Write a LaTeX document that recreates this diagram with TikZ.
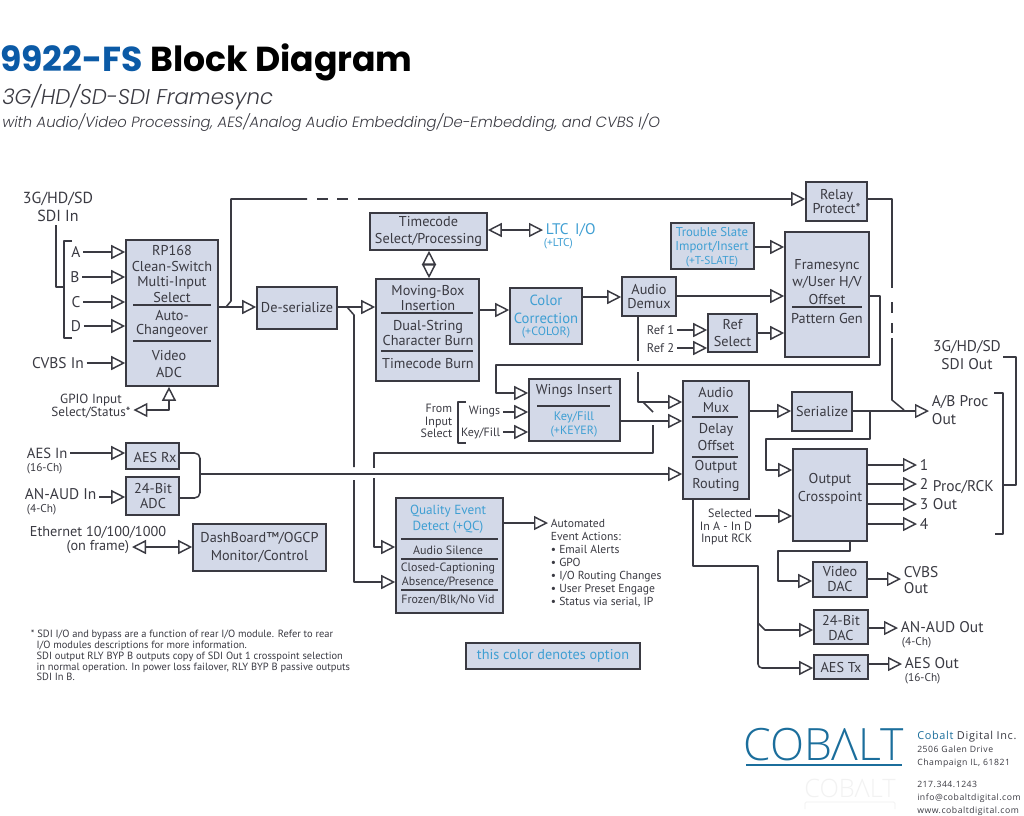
\documentclass[tikz,border=0pt]{standalone}
\usepackage{fontspec}
\setmainfont{PT Sans}
\newfontfamily\ttlf{Poppins}
\newfontfamily\subf{Poppins Light Italic}
\newfontfamily\logof{Open Sans Light}
\newfontfamily\addrf{Open Sans}[LetterSpace=6]
\usetikzlibrary{arrows.meta}
\definecolor{ink}{HTML}{3A3A42}
\definecolor{boxfill}{HTML}{D3D9E8}
\definecolor{opt}{HTML}{3F9FD3}
\definecolor{ttlblue}{HTML}{0B5AA6}
\definecolor{logoblue}{HTML}{1B6E9C}
\newcommand{\lb}{\fontsize{10.7}{11}\selectfont}
\newcommand{\lbig}{\fontsize{11.6}{12}\selectfont}
\newcommand{\ls}{\fontsize{9}{9.6}\selectfont}
\newcommand{\lt}{\fontsize{8.5}{9}\selectfont}
\tikzset{
  blk/.style={draw=ink,fill=boxfill,line width=1.2pt,inner sep=0pt,rectangle},
  lab/.style={font=\lb,align=center,text=ink,inner xsep=2pt,inner ysep=0pt},
  wire/.style={draw=ink,line width=1.15pt,line join=round},
  arr/.style={wire,-{Triangle[open,fill=white,length=10.5pt,width=10.5pt,line width=1.1pt]}},
  barr/.style={wire,{Triangle[open,fill=white,length=10.5pt,width=10.5pt,line width=1.1pt]}-{Triangle[open,fill=white,length=10.5pt,width=10.5pt,line width=1.1pt]}},
  sepl/.style={draw=ink,line width=1.1pt},
}
\newcommand{\blk}[6][]{%
  \node[blk,#1,minimum width={(#5-#3)*0.75pt},minimum height={(#6-#4)*0.75pt}] (#2) at ({(#3+#5)/2},{(#4+#6)/2}) {};}
\begin{document}
\begin{tikzpicture}[x=0.75pt,y=-0.75pt]
\useasboundingbox (0,0) rectangle (1024,815);
\fill[white] (0,0) rectangle (1024,815);

% Title
\node[anchor=base west,inner sep=0pt,font=\ttlf\bfseries\fontsize{26}{27}\selectfont] (title) at (0,71) {\textcolor{ttlblue}{9922-FS} Block Diagram};
\node[anchor=base west,inner sep=0pt,font=\subf\fontsize{16}{18}\selectfont,text=ink] (sub1) at (2,104) {3G/HD/SD-SDI Framesync};
\node[anchor=base west,inner sep=0pt,font=\subf\fontsize{11.1}{14}\selectfont,text=ink] (sub2) at (2,127) {with Audio/Video Processing, AES/Analog Audio Embedding/De-Embedding, and CVBS I/O};

% Blocks
\blk{rp}{126}{240}{218}{386}
\blk{des}{257}{287}{337}{329}
\blk{relay}{806}{182}{867}{221}
\blk{tc}{370}{213}{487}{250}
\blk{mov}{376}{279}{479}{381}
\blk{col}{510}{288}{582}{344}
\blk{demux}{622}{277}{676}{316}
\blk{ts}{671}{223}{754}{269}
\blk{fs}{785}{232}{869}{357}
\blk{refs}{708}{314}{757}{352}
\blk{wings}{529}{379}{620}{441}
\blk{mux}{683}{381}{749}{499}
\blk{ser}{792}{392}{852}{431}
\blk{xp}{793}{449}{867}{541}
\blk{vdac}{813}{562}{867}{597}
\blk{adac}{814}{610}{868}{644}
\blk{aestx}{814}{655}{868}{679}
\blk{aesrx}{126}{443}{179}{469}
\blk{adc}{126}{477}{179}{515}
\blk{dash}{193}{524}{326}{571}
\blk{qed}{396}{498}{503}{613}
\blk{legend}{466}{643}{640}{669}

% Block text
\node[lab] (t1) at (172,274) {RP168\\[0.6pt]Clean-Switch\\[0.6pt]Multi-Input\\[0.6pt]Select};
\draw[sepl] (133,305) -- (211,305);
\node[lab] (t2) at (172,324) {Auto-\\Changeover};
\draw[sepl] (133,341) -- (211,341);
\node[lab] (t3) at (169,364) {Video\\[2pt]ADC};
\node[lab] (t4) at (des) {De-serialize};
\node[lab] (t5) at (relay) {Relay\\Protect*};
\node[lab] (t6) at (tc) {Timecode\\[2pt]Select/Processing};
\node[lab] (t7) at (428,298) {Moving-Box\\Insertion};
\draw[sepl] (381,313) -- (473,313);
\node[lab] (t8) at (428,333) {Dual-String\\Character Burn};
\draw[sepl] (381,351) -- (473,351);
\node[lab] (t9) at (428,364) {Timecode Burn};
\node[lab,font=\fontsize{11}{11.5}\selectfont,text=opt] (t10) at (546,309) {Color\\[2pt]Correction};
\node[lab,font=\ls,text=opt] (t11) at (546,333) {(+COLOR)};
\node[lab] (t12) at (demux) {Audio\\Demux};
\node[lab,font=\fontsize{9.6}{10.6}\selectfont,text=opt] (t13) at (712,240) {Trouble Slate\\Import/Insert};
\node[lab,font=\fontsize{8.6}{9}\selectfont,text=opt] (t14) at (712,262) {(+T-SLATE)};
\node[lab] (t15) at (827,282) {Framesync\\[2pt]w/User H/V\\[2pt]Offset};
\draw[sepl] (792,307) -- (862,307);
\node[lab] (t16) at (827,318) {Pattern Gen};
\node[lab] (t17) at (refs) {Ref\\[2pt]Select};
\node[lab] (t18) at (574,391) {Wings Insert};
\draw[sepl] (537,406) -- (610,406);
\node[lab,font=\fontsize{9.3}{10}\selectfont,text=opt] (t19) at (574,417) {Key/Fill};
\node[lab,font=\ls,text=opt] (t20) at (574,432) {(+KEYER)};
\node[lab] (t21) at (716,400) {Audio\\Mux};
\draw[sepl] (692,417) -- (738,417);
\node[lab] (t22) at (716,437) {Delay\\[2pt]Offset};
\draw[sepl] (692,457) -- (738,457);
\node[lab] (t23) at (716,476) {Output\\[2pt]Routing};
\node[lab] (t24) at (ser) {Serialize};
\node[lab] (t25) at (830,489) {Output\\[2pt]Crosspoint};
\node[lab] (t26) at (840,579) {Video\\DAC};
\node[lab] (t27) at (841,628) {24-Bit\\DAC};
\node[lab] (t28) at (aestx) {AES Tx};
\node[lab] (t29) at (155,457) {AES Rx};
\node[lab] (t30) at (153,496) {24-Bit\\ADC};
\node[lab] (t31) at (dash) {DashBoard™/OGCP\\[2pt]Monitor/Control};
\node[lab,font=\fontsize{9.9}{10.8}\selectfont,text=opt] (t32) at (448,519) {Quality Event\\[1pt]Detect (+QC)};
\draw[sepl,line width=1.5pt] (401,539) -- (498,539);
\node[lab,font=\ls] (t33) at (448,550) {Audio Silence};
\draw[sepl] (401,559) -- (498,559);
\node[lab,font=\ls] (t34) at (448,575) {Closed-Captioning\\[1pt]Absence/Presence};
\draw[sepl] (401,590) -- (498,590);
\node[lab,font=\ls] (t35) at (448,600) {Frozen/Blk/No Vid};
\node[lab,text=opt] (t36) at (legend) {this color denotes option};

% Input / output labels
\node[lab,font=\fontsize{12}{12.5}\selectfont] (sdiin) at (58,207) {3G/HD/SD\\[1pt]SDI In};
\node[lab,font=\lbig] (inA) at (76,252) {A};
\node[lab,font=\lbig] (inB) at (75,277) {B};
\node[lab,font=\lbig] (inC) at (76,302) {C};
\node[lab,font=\lbig] (inD) at (76,326) {D};
\node[lab,font=\lbig] (cvbs) at (58,363) {CVBS In};
\node[lab,font=\fontsize{9.9}{10}\selectfont] (gpio) at (91,406) {GPIO Input\\Select/Status*};
\node[lab,anchor=west,font=\fontsize{11}{12}\selectfont] (aesin) at (24,453) {AES In};
\node[lab,anchor=west,font=\lt] (aesin2) at (24,469) {(16-Ch)};
\node[lab,anchor=west,font=\lbig] (anin) at (22,494) {AN-AUD In};
\node[lab,anchor=west,font=\lt] (anin2) at (24,510) {(4-Ch)};
\node[lab] (eth) at (98,532) {Ethernet 10/100/1000};
\node[lab,anchor=east] (frame) at (132,547) {(on frame)};
\node[lab,anchor=west,text=opt,font=\fontsize{11.5}{12}\selectfont] (ltc) at (543,230) {LTC\, I/O};
\node[lab,anchor=west,font=\lt,text=opt] (ltc2) at (541,244) {(+LTC)};
\node[lab,anchor=west,font=\fontsize{9.4}{10}\selectfont] (ref1) at (644,330) {Ref 1};
\node[lab,anchor=west,font=\fontsize{9.4}{10}\selectfont] (ref2) at (644,348) {Ref 2};
\node[lab,font=\ls,align=right,anchor=east] (from) at (455,421) {From\\Input\\Select};
\node[lab,font=\ls,anchor=east] (wl) at (503,412) {Wings};
\node[lab,font=\ls,anchor=east] (kf) at (503,433) {Key/Fill};
\node[lab,font=\ls,align=right,anchor=east] (sel) at (755,527) {Selected\\In A - In D\\Input RCK};
\node[lab,font=\lbig] (sdiout) at (967,355) {3G/HD/SD\\[1pt]SDI Out};
\node[lab,anchor=west,align=left,font=\lbig] (abp) at (929,410) {A/B Proc\\[1pt]Out};
\node[lab,anchor=west,font=\lbig] (o1) at (917,465) {1};
\node[lab,anchor=west,font=\lbig] (o2) at (917,484) {2};
\node[lab,anchor=west,font=\lbig] (o3) at (917,504) {3};
\node[lab,anchor=west,font=\lbig] (o4) at (917,524) {4};
\node[lab,anchor=west,align=left,font=\lbig] (prc) at (930,495) {Proc/RCK\\[1pt]Out};
\node[lab,anchor=west,align=left,font=\lbig] (cv) at (901,580) {CVBS\\Out};
\node[lab,anchor=west,font=\lbig] (ano) at (898,627) {AN-AUD Out};
\node[lab,anchor=west,font=\lt] (ano2) at (899,643) {(4-Ch)};
\node[lab,anchor=west,font=\lbig] (aeo) at (902,663) {AES Out};
\node[lab,anchor=west,font=\lt] (aeo2) at (902,679) {(16-Ch)};
\node[lab,anchor=west,align=left,font=\fontsize{8.7}{9.75}\selectfont] (auto) at (548,563) {Automated\\Event Actions:\\• Email Alerts\\• GPO\\• I/O Routing Changes\\• User Preset Engage\\• Status via serial, IP};
\node[lab,anchor=north west,align=left,font=\fontsize{7.85}{7.7}\selectfont] (note) at (28,630) {* SDI I/O and bypass are a function of rear I/O module. Refer to rear\\
\hspace*{4.3pt}I/O modules descriptions for more information.\\[1.2pt]
\hspace*{4.3pt}SDI output RLY BYP B outputs copy of SDI Out 1 crosspoint selection\\
\hspace*{4.3pt}in normal operation. In power loss failover, RLY BYP B passive outputs\\
\hspace*{4.3pt}SDI In B.};

% Logo and address
\node[anchor=base west,inner sep=0pt,text=logoblue,font=\logof\fontsize{33.4}{36}\selectfont] (logo) at (743,760) {COBΛLT};
\draw[logoblue,line width=1.6pt] (746,765) -- (902,765);
\node[anchor=base west,inner sep=0pt,text=black!5,font=\logof\fontsize{19}{20}\selectfont] (ghost) at (804,797) {COBΛLT};
\draw[black!6,line width=0.6pt,rounded corners=1pt] (805,809) -- (805,802) -- (895,802) -- (895,809);
\node[anchor=base west,inner sep=0pt,text=ink,font=\addrf\fontsize{8.2}{9.75}\selectfont] (addr1) at (917,739) {\textcolor{logoblue}{Cobalt} Digital Inc.};
\node[anchor=base west,inner sep=0pt,align=left,text=ink,font=\addrf\fontsize{6.5}{9.6}\selectfont] (addr2) at (917,765) {2506 Galen Drive\\Champaign IL, 61821};
\node[anchor=base west,inner sep=0pt,align=left,text=ink,font=\addrf\fontsize{6.5}{9.6}\selectfont] (addr3) at (917,813) {217.344.1243\\info@cobaltdigital.com\\www.cobaltdigital.com};

% SDI input bracket
\coordinate (brk) at (64,287);
\draw[wire] (56,225) -- (56,287) -- (brk);
\draw[wire] (72,241) -- (64,241) -- (64,338) -- (72,338);
\draw[arr] (inA.east |- 0,252) -- (rp.west |- 0,252);
\draw[arr] (inB.east |- 0,277) -- (rp.west |- 0,277);
\draw[arr] (inC.east |- 0,302) -- (rp.west |- 0,302);
\draw[arr] (inD.east |- 0,326) -- (rp.west |- 0,326);
\draw[arr] (cvbs.east |- 0,363) -- (rp.west |- 0,363);
\draw[barr] (gpio.east |- 0,410) -| (rp.south -| 169,0);

% RP168 out and bypass
\draw[arr] (rp.east |- 0,307) -- (des.west |- 0,307);
\coordinate (jby) at (226,307);
\draw[wire] (jby) -- (231,301) -- (231,199) -- (307,199);
\draw[wire] (317,199) -- (328,199);
\draw[wire] (337,199) -- (348,199);
\draw[arr] (358,199) -- (relay.west |- 0,199);

% De-serialize out
\draw[arr] (des.east |- 0,307) -- (mov.west |- 0,307);
\coordinate (jde) at (347,307);
\draw[wire] (jde) -- (354,315) -- (354,467);
\draw[arr] (354,480) -- (354,582) -- (qed.west |- 0,582);

% Timecode, moving box, colour, demux
\draw[barr] (tc.south -| 429,0) -- (mov.north -| 429,0);
\draw[barr] (tc.east |- 0,230) -- (ltc.west |- 0,230);
\draw[arr] (mov.east |- 0,310) -- (col.west |- 0,310);
\draw[arr] (col.east |- 0,297) -- (demux.west |- 0,297);
\draw[arr] (demux.east |- 0,296) -- (fs.west |- 0,296);
\draw[arr] (ts.east |- 0,247) -- (fs.west |- 0,247);
\draw[arr] (ref1.east |- 0,330) -- (refs.west |- 0,330);
\draw[arr] (ref2.east |- 0,348) -- (refs.west |- 0,348);
\draw[arr] (refs.east |- 0,333) -- (fs.west |- 0,333);

% Demux to audio mux with tap
\draw[wire] (demux.south -| 638,0) -- (638,361);
\draw[arr] (638,372) -- (638,402) -- (mux.west |- 0,402);
\coordinate (jmx) at (643,402);
\draw[wire] (jmx) -- (653,412);
\draw[wire] (653,425) -- (653,453) -- (374,453) -- (374,468);
\draw[arr] (374,478) -- (374,547) -- (qed.west |- 0,547);

% Framesync out loops to wings
\draw[arr] (fs.east |- 0,296) -- (880,296) -- (880,365) -- (496,365) -- (496,393) -- (wings.west |- 0,393);

% Wings
\draw[wire] (466,402) -- (458,402) -- (458,443) -- (466,443);
\draw[arr] (wl.east |- 0,412) -- (wings.west |- 0,412);
\draw[arr] (kf.east |- 0,432) -- (wings.west |- 0,432);
\draw[arr] (wings.east |- 0,421) -- (mux.west |- 0,421);

% Audio inputs
\draw[arr] (aesin.east |- 0,453) -- (aesrx.west |- 0,453);
\draw[arr] (anin.east |- 0,497) -- (adc.west |- 0,497);
\draw[wire,rounded corners=4pt] (aesrx.east |- 0,453) -- (200,453) -- (200,498) -- (adc.east |- 0,498);
\coordinate (jau) at (200,474);
\draw[arr] (jau) -- (mux.west |- 0,474);
\draw[barr] (frame.east |- 0,547) -- (dash.west |- 0,547);
\draw[arr] (qed.east |- 0,523) -- (auto.west |- 0,523);

% Outputs
\draw[arr] (mux.east |- 0,411) -- (ser.west |- 0,411);
\draw[arr] (ser.east |- 0,411) -- (abp.west |- 0,411);
\coordinate (jse) at (870,411);
\draw[arr] (jse) -- (870,439) -- (766,439) -- (766,470) -- (xp.west |- 0,470);
\draw[arr] (sel.east |- 0,516) -- (xp.west |- 0,516);
\draw[arr] (xp.east |- 0,465) -- (o1.west |- 0,465);
\draw[arr] (xp.east |- 0,484) -- (o2.west |- 0,484);
\draw[arr] (xp.east |- 0,504) -- (o3.west |- 0,504);
\draw[arr] (xp.east |- 0,524) -- (o4.west |- 0,524);
\draw[arr] (xp.south -| 850,0) -- (850,551) -- (778,551) -- (778,581) -- (vdac.west |- 0,581);
\draw[arr] (vdac.east |- 0,579) -- (cv.west |- 0,579);
\draw[arr] (mux.south -| 693,0) -- (693,566) -- (758,566) -- (758,623) -- (765,630) -- (adac.west |- 0,630);
\coordinate (jda) at (758,623);
\draw[arr,rounded corners=3pt] (jda) -- (758,668) -- (aestx.west |- 0,668);
\draw[arr] (adac.east |- 0,628) -- (ano.west |- 0,628);
\draw[arr] (aestx.east |- 0,664) -- (aeo.west |- 0,664);

% Relay out
\draw[wire] (relay.east |- 0,199) -- (892,199) -- (892,288);
\draw[wire] (892,302) -- (892,313);
\draw[wire] (892,323) -- (892,333);
\draw[wire] (892,338) -- (892,400) -- (904,410);

% Output brackets
\draw[wire] (1003,357) -- (1016,357) -- (1016,485) -- (1003,485);
\draw[wire] (994,393) -- (1003,393) -- (1003,534) -- (995,534);
\end{tikzpicture}
\end{document}
